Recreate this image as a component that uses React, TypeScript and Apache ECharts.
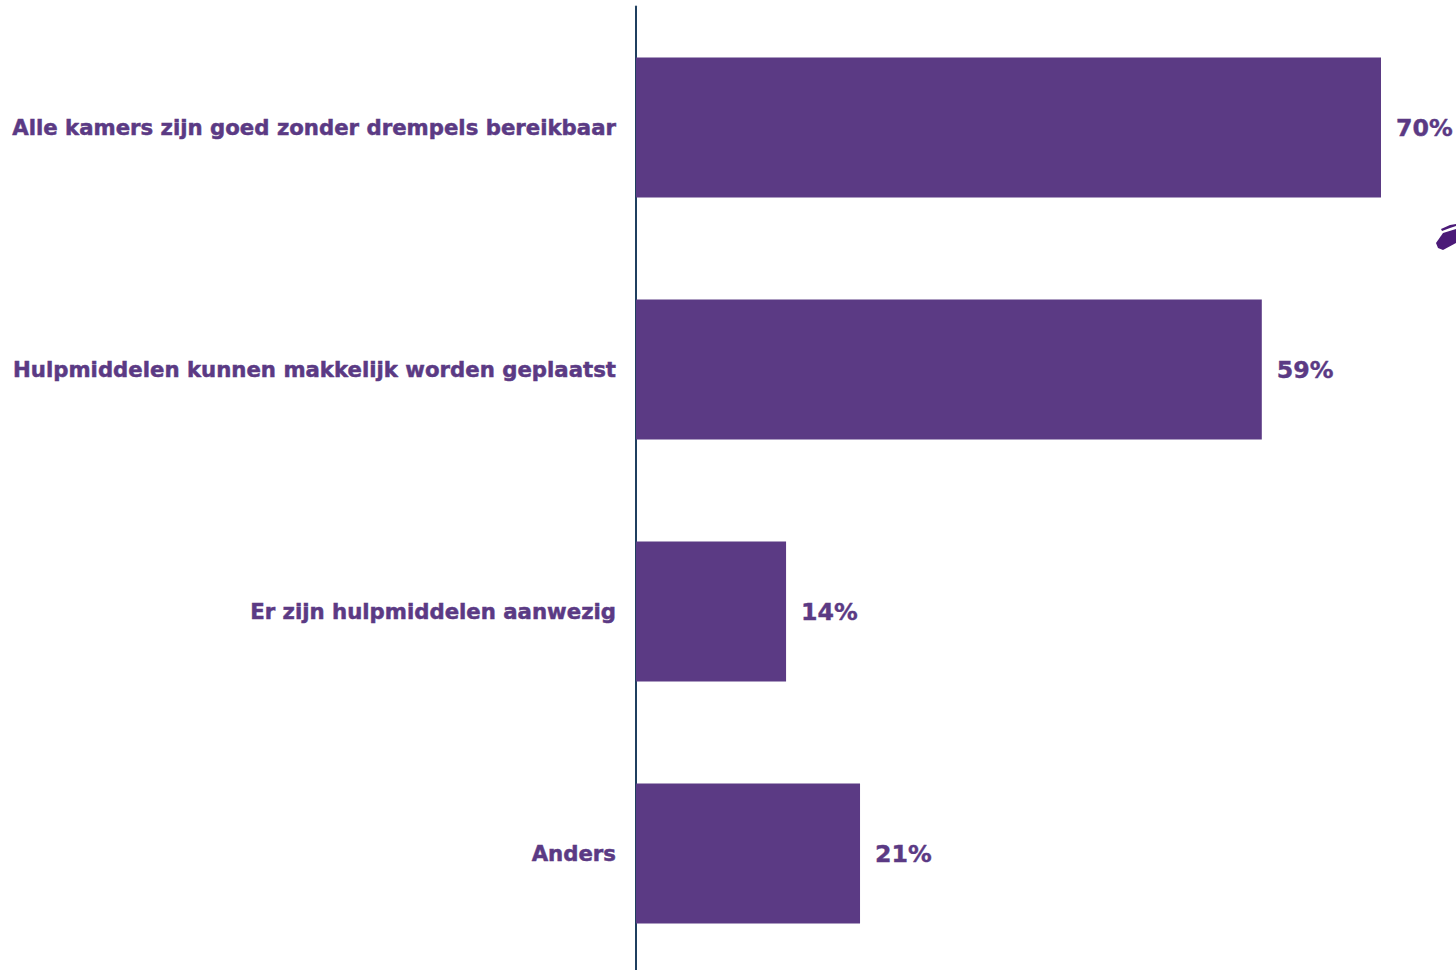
import React, { useEffect, useRef } from "react";
import * as echarts from "echarts";

const categories = [
  "Alle kamers zijn goed zonder drempels bereikbaar",
  "Hulpmiddelen kunnen makkelijk worden geplaatst",
  "Er zijn hulpmiddelen aanwezig",
  "Anders",
];
const values = [70, 58.8, 14.1, 21.05];
const labels = ["70%", "59%", "14%", "21%"];

const PURPLE = "#5b3a84";
const FONT = "'DejaVu Sans', Verdana, sans-serif";

export default function App() {
  const ref = useRef<HTMLDivElement>(null);
  useEffect(() => {
    const chart = echarts.init(ref.current!, null, { renderer: "svg" });
    chart.setOption({
      animation: false,
      backgroundColor: "#ffffff",
      grid: { left: 636, top: 6.5, width: 745, height: 968, outerBoundsMode: "none" },
      xAxis: { type: "value", min: 0, max: 70, show: false },
      yAxis: {
        type: "category",
        inverse: true,
        data: categories,
        axisTick: { show: false },
        axisLine: { show: true, onZero: false, lineStyle: { color: "#1f3f5f", width: 2 } },
        axisLabel: {
          color: PURPLE,
          fontFamily: FONT,
          fontWeight: "bold",
          fontSize: 21.25,
          margin: 20,
          textBorderColor: PURPLE,
          textBorderWidth: 0.5,
        },
      },
      series: [
        {
          type: "bar",
          data: values,
          barWidth: 140,
          itemStyle: { color: PURPLE },
          label: {
            show: true,
            position: "right",
            distance: 15,
            color: PURPLE,
            fontFamily: FONT,
            fontWeight: "bold",
            fontSize: 23.7,
            textBorderColor: PURPLE,
            textBorderWidth: 0.4,
            formatter: (p: any) => labels[p.dataIndex],
          },
        },
      ],
      graphic: [
        {
          type: "polygon",
          silent: true,
          shape: { points: [[1436, 243], [1443, 233], [1456, 229], [1456, 243], [1443, 250], [1438, 248]] },
          style: { fill: "#4b1a78" },
        },
        {
          type: "polygon",
          silent: true,
          shape: { points: [[1441, 229], [1450, 225], [1456, 224], [1456, 226], [1450, 228], [1442, 231]] },
          style: { fill: "#4b1a78" },
        },
      ],
    });
    return () => chart.dispose();
  }, []);
  return <div ref={ref} style={{ position: "absolute", left: 0, top: 0, width: 1456, height: 970, overflow: "hidden" }} />;
}
